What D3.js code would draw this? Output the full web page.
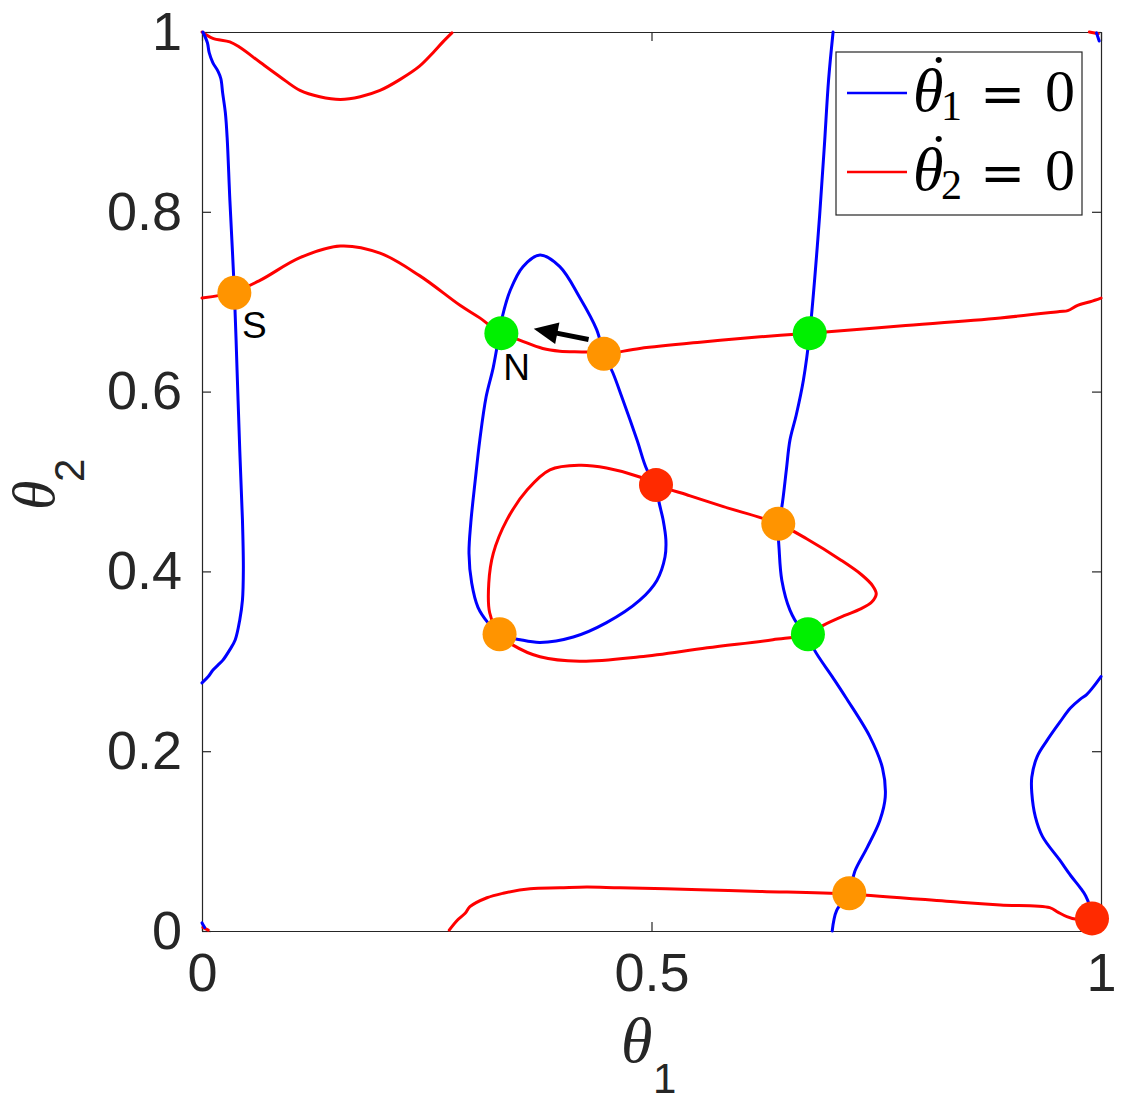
<!DOCTYPE html>
<html>
<head>
<meta charset="utf-8">
<script src="https://cdn.jsdelivr.net/npm/d3@7"></script>
<style>
  body { margin: 0; background: #fff; }
  svg { display: block; }
</style>
</head>
<body>
<div id="chart"></div>
<script>
var svgWidth = 1125;
var svgHeight = 1101;
var margin = { top: 32, right: 24, bottom: 170, left: 202 };
var width = svgWidth - margin.left - margin.right;
var height = svgHeight - margin.top - margin.bottom;

// theta1-dot = 0 nullcline pieces (blue)
var blueLeft = [[0.001,1.0],[0.006,0.988],[0.008,0.977],[0.012,0.966],[0.018,0.956],[0.021,0.948],[0.023,0.932],[0.026,0.910],[0.028,0.882],[0.031,0.813],[0.036,0.711],[0.039,0.624],[0.042,0.535],[0.045,0.457],[0.046,0.402],[0.045,0.368],[0.042,0.346],[0.037,0.324],[0.031,0.313],[0.023,0.301],[0.018,0.296],[0.012,0.290],[0.007,0.283],[0.0,0.276]];
var blueLoop = [[0.376,0.752],[0.398,0.739],[0.420,0.705],[0.439,0.669],[0.447,0.642],[0.457,0.621],[0.467,0.594],[0.484,0.546],[0.495,0.513],[0.506,0.496],[0.508,0.479],[0.513,0.457],[0.516,0.435],[0.515,0.416],[0.506,0.390],[0.487,0.368],[0.450,0.343],[0.413,0.327],[0.376,0.321],[0.354,0.324],[0.331,0.330],[0.318,0.343],[0.307,0.360],[0.300,0.387],[0.297,0.420],[0.299,0.454],[0.304,0.502],[0.309,0.546],[0.316,0.594],[0.324,0.627],[0.331,0.666],[0.334,0.683],[0.343,0.713],[0.357,0.739]];
var blueMid = [[0.702,1.0],[0.697,0.947],[0.692,0.869],[0.685,0.769],[0.676,0.665],[0.669,0.613],[0.661,0.574],[0.654,0.546],[0.650,0.513],[0.645,0.472],[0.641,0.453],[0.642,0.424],[0.645,0.390],[0.654,0.357],[0.665,0.338],[0.674,0.330],[0.681,0.313],[0.701,0.283],[0.716,0.260],[0.743,0.216],[0.757,0.181],[0.760,0.149],[0.754,0.123],[0.740,0.093],[0.726,0.066],[0.720,0.042],[0.706,0.023],[0.701,0.0]];
var blueRight = [[1.0,0.283],[0.991,0.271],[0.984,0.263],[0.977,0.258],[0.966,0.248],[0.954,0.232],[0.940,0.212],[0.929,0.194],[0.923,0.171],[0.923,0.154],[0.927,0.127],[0.935,0.105],[0.954,0.079],[0.966,0.062],[0.977,0.048],[0.983,0.039],[0.987,0.029],[0.990,0.014]];
var blueBits = [[[0.0,0.009],[0.003,0.004]], [[0.995,0.999],[0.998,0.990]]];

// theta2-dot = 0 nullcline pieces (red)
var redTop = [[0.0,1.0],[0.012,0.993],[0.031,0.989],[0.042,0.983],[0.065,0.966],[0.087,0.950],[0.109,0.935],[0.131,0.928],[0.154,0.925],[0.176,0.928],[0.198,0.935],[0.220,0.947],[0.242,0.962],[0.257,0.977],[0.268,0.989],[0.278,0.999]];
var redUpper = [[0.0,0.704],[0.036,0.711],[0.065,0.724],[0.109,0.749],[0.154,0.762],[0.198,0.754],[0.242,0.729],[0.287,0.696],[0.309,0.682],[0.331,0.666],[0.354,0.657],[0.379,0.648],[0.398,0.645],[0.428,0.644],[0.447,0.642],[0.487,0.648],[0.554,0.655],[0.621,0.661],[0.676,0.665],[0.776,0.673],[0.888,0.682],[0.954,0.689],[0.963,0.690],[0.974,0.696],[0.988,0.700],[1.0,0.704]];
var redLoop = [[0.331,0.330],[0.320,0.354],[0.319,0.387],[0.324,0.420],[0.339,0.457],[0.362,0.491],[0.387,0.513],[0.420,0.518],[0.450,0.515],[0.487,0.505],[0.506,0.496],[0.543,0.484],[0.580,0.472],[0.641,0.453],[0.673,0.436],[0.710,0.413],[0.734,0.396],[0.746,0.384],[0.750,0.375],[0.745,0.366],[0.732,0.358],[0.715,0.351],[0.691,0.340],[0.674,0.330],[0.635,0.324],[0.562,0.315],[0.487,0.305],[0.420,0.300],[0.376,0.305],[0.346,0.318]];
var redBottom = [[0.275,0.001],[0.284,0.012],[0.293,0.020],[0.298,0.027],[0.317,0.037],[0.335,0.042],[0.365,0.047],[0.398,0.048],[0.428,0.049],[0.465,0.048],[0.554,0.046],[0.621,0.044],[0.720,0.041],[0.843,0.032],[0.888,0.029],[0.943,0.026],[0.952,0.021],[0.962,0.016],[0.973,0.013],[0.990,0.014],[1.0,0.014]];
var redBits = [[[0.001,0.004],[0.007,0.001]], [[0.987,1.0],[0.997,0.998]]];

// fixed points: [theta1, theta2, kind]
var fixedPoints = [
  [0.036,0.710,"saddle"],[0.333,0.665,"stable"],[0.447,0.642,"saddle"],[0.676,0.665,"stable"],
  [0.505,0.496,"unstable"],[0.641,0.453,"saddle"],[0.331,0.330,"saddle"],[0.674,0.330,"stable"],
  [0.720,0.042,"saddle"],[0.990,0.014,"unstable"]
];
var pointColor = { saddle: "#ff9400", stable: "#00f000", unstable: "#ff2a00" };

// label text with the theta1, theta2 of its baseline start
var pointLabels = [["S",0.0445,0.660],["N",0.335,0.613]];
var arrowFrom = [0.430, 0.658];
var arrowTo = [0.369, 0.670];

var xTicks = [0, 0.5, 1];
var yTicks = [0, 0.2, 0.4, 0.6, 0.8, 1];
var legendSubs = ["1", "2"];
var legendColors = ["#0000ff", "#ff0000"];

var svg = d3.select("#chart")
  .append("svg")
  .attr("width", svgWidth)
  .attr("height", svgHeight);

var chart = svg.append("g")
  .attr("transform", "translate(" + margin.left + "," + margin.top + ")");

var x = d3.scaleLinear().domain([0, 1]).range([0, width]);
var y = d3.scaleLinear().domain([0, 1]).range([height, 0]);

var fmt = d3.format("~g");
var tickFont = "'Liberation Sans', Arial, Helvetica, sans-serif";
var serif = "'Liberation Serif', 'DejaVu Serif', 'Times New Roman', serif";

// axes, ticks pointing inward
var bottomAxis = d3.axisBottom(x).tickValues(xTicks).tickFormat(fmt).tickSize(-9).tickSizeOuter(0).tickPadding(22);
var leftAxis = d3.axisLeft(y).tickValues(yTicks).tickFormat(fmt).tickSize(-9).tickSizeOuter(0).tickPadding(20);
var topAxis = d3.axisTop(x).tickValues(xTicks).tickFormat("").tickSize(-9).tickSizeOuter(0);
var rightAxis = d3.axisRight(y).tickValues(yTicks).tickFormat("").tickSize(-9).tickSizeOuter(0);

chart.append("g").attr("class", "x-axis").attr("transform", "translate(0," + height + ")").call(bottomAxis);
chart.append("g").attr("class", "y-axis").call(leftAxis);
chart.append("g").attr("class", "top-axis").call(topAxis);
chart.append("g").attr("class", "right-axis").attr("transform", "translate(" + width + ",0)").call(rightAxis);

chart.selectAll(".domain, .tick line").attr("stroke", "#262626").attr("stroke-width", 1.2);
chart.selectAll(".tick text")
  .attr("fill", "#262626")
  .style("font-family", tickFont)
  .style("font-size", "54px");

// curves
var plot = chart.append("g");
var line = d3.line()
  .x(function(d) { return x(d[0]); })
  .y(function(d) { return y(d[1]); })
  .curve(d3.curveCatmullRom.alpha(0.5));
var loop = d3.line()
  .x(function(d) { return x(d[0]); })
  .y(function(d) { return y(d[1]); })
  .curve(d3.curveCatmullRomClosed.alpha(0.5));
var straight = d3.line()
  .x(function(d) { return x(d[0]); })
  .y(function(d) { return y(d[1]); });

function drawCurve(data, gen, color) {
  plot.append("path")
    .attr("d", gen(data))
    .attr("fill", "none")
    .attr("stroke", color)
    .attr("stroke-width", 3)
    .attr("stroke-linejoin", "round")
    .attr("stroke-linecap", "round");
}

[redTop, redUpper, redBottom].forEach(function(d) { drawCurve(d, line, "#ff0000"); });
drawCurve(redLoop, loop, "#ff0000");
redBits.forEach(function(d) { drawCurve(d, straight, "#ff0000"); });
[blueLeft, blueMid, blueRight].forEach(function(d) { drawCurve(d, line, "#0000ff"); });
drawCurve(blueLoop, loop, "#0000ff");
blueBits.forEach(function(d) { drawCurve(d, straight, "#0000ff"); });

// arrow N <- saddle
var ax0 = x(arrowFrom[0]), ay0 = y(arrowFrom[1]);
var ax1 = x(arrowTo[0]), ay1 = y(arrowTo[1]);
var len = Math.sqrt((ax1 - ax0) * (ax1 - ax0) + (ay1 - ay0) * (ay1 - ay0));
var ux = (ax1 - ax0) / len, uy = (ay1 - ay0) / len;
var headLen = 24, headHalf = 11;
var bx = ax1 - ux * headLen, by = ay1 - uy * headLen;
plot.append("line")
  .attr("x1", ax0).attr("y1", ay0)
  .attr("x2", bx + ux * 2).attr("y2", by + uy * 2)
  .attr("stroke", "#000").attr("stroke-width", 5);
plot.append("path")
  .attr("d", "M" + ax1 + "," + ay1 +
    "L" + (bx - uy * headHalf) + "," + (by + ux * headHalf) +
    "L" + (bx + uy * headHalf) + "," + (by - ux * headHalf) + "Z")
  .attr("fill", "#000");

// fixed points
plot.selectAll("circle.fp")
  .data(fixedPoints)
  .enter()
  .append("circle")
  .attr("class", "fp")
  .attr("cx", function(d) { return x(d[0]); })
  .attr("cy", function(d) { return y(d[1]); })
  .attr("r", 17)
  .attr("fill", function(d) { return pointColor[d[2]]; });

plot.selectAll("text.pl")
  .data(pointLabels)
  .enter()
  .append("text")
  .attr("class", "pl")
  .attr("x", function(d) { return x(d[1]); })
  .attr("y", function(d) { return y(d[2]); })
  .style("font-family", tickFont)
  .style("font-size", "37px")
  .attr("fill", "#000")
  .text(function(d) { return d[0]; });

// axis labels
var xlab = svg.append("text").attr("fill", "#262626");
xlab.append("tspan")
  .attr("x", 621).attr("y", 1062)
  .style("font-family", serif).style("font-style", "italic").style("font-size", "64px")
  .text("θ");
xlab.append("tspan")
  .attr("x", 653).attr("y", 1093)
  .style("font-family", tickFont).style("font-size", "42px")
  .text("1");

var ylab = svg.append("text")
  .attr("transform", "translate(54,510) rotate(-90)")
  .attr("fill", "#262626");
ylab.append("tspan")
  .attr("x", 0).attr("y", 0)
  .style("font-family", serif).style("font-style", "italic").style("font-size", "60px")
  .text("θ");
ylab.append("tspan")
  .attr("x", 28).attr("y", 30)
  .style("font-family", tickFont).style("font-size", "42px")
  .text("2");

// legend
var legend = svg.append("g");
legend.append("rect")
  .attr("x", 836).attr("y", 52).attr("width", 246).attr("height", 163)
  .attr("fill", "#fff").attr("stroke", "#262626").attr("stroke-width", 1.2);
legendSubs.forEach(function(sub, i) {
  var dy = i * 79;
  legend.append("line")
    .attr("x1", 847).attr("x2", 907).attr("y1", 93 + dy).attr("y2", 93 + dy)
    .attr("stroke", legendColors[i]).attr("stroke-width", 2.6);
  var t = legend.append("text").attr("fill", "#000").style("font-family", serif);
  t.append("tspan")
    .attr("x", 913).attr("y", 111 + dy)
    .style("font-style", "italic").style("font-size", "62px")
    .text("θ");
  t.append("tspan")
    .attr("x", 929).attr("y", 95 + dy)
    .style("font-size", "58px")
    .text("˙");
  t.append("tspan")
    .attr("x", 941).attr("y", 120 + dy)
    .style("font-size", "42px")
    .text(sub);
  t.append("tspan")
    .attr("x", 980).attr("y", 113 + dy)
    .style("font-family", "'DejaVu Serif', serif").style("font-size", "54px")
    .text("=");
  t.append("tspan")
    .attr("x", 1045).attr("y", 111 + dy)
    .style("font-size", "60px")
    .text("0");
});
</script>
</body>
</html>
